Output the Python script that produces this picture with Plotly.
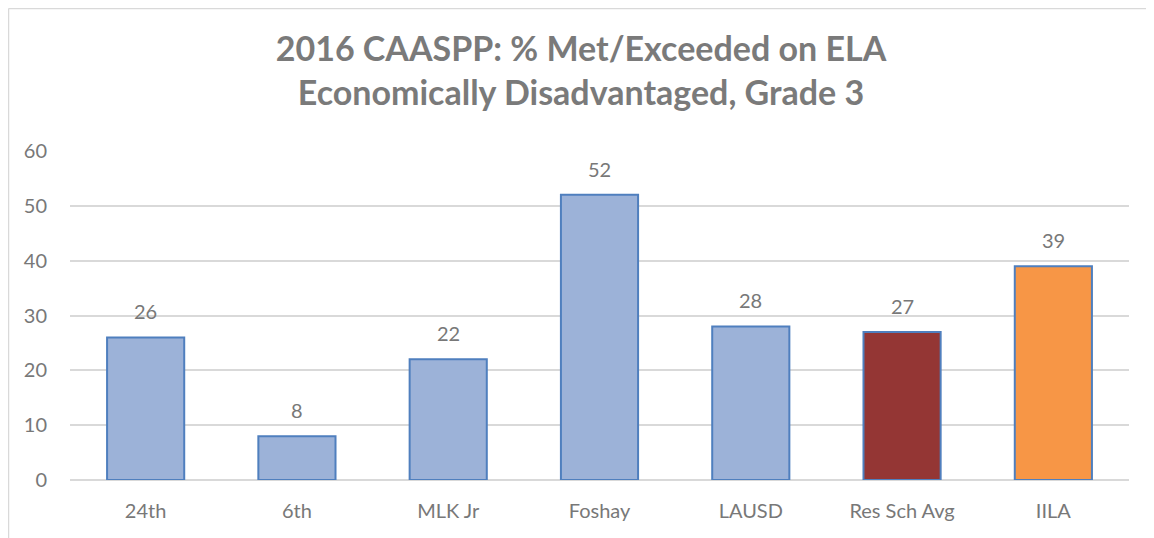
import plotly.graph_objects as go

categories = ["24th", "6th", "MLK Jr", "Foshay", "LAUSD", "Res Sch Avg", "IILA"]
values = [26, 8, 22, 52, 28, 27, 39]
bar_colors = ["#9CB2D8", "#9CB2D8", "#9CB2D8", "#9CB2D8", "#9CB2D8", "#943634", "#F79646"]
y_ticks = [0, 10, 20, 30, 40, 50, 60]

title_text = "2016 CAASPP: % Met/Exceeded on ELA<br>Economically Disadvantaged, Grade 3"
FONT = "Lato, Open Sans, sans-serif"
LABEL_COLOR = "#787878"

fig = go.Figure()
fig.add_trace(go.Bar(
    x=categories,
    y=values,
    marker=dict(color=bar_colors, line=dict(color="#4F7FBE", width=2)),
    hoverinfo="x+y",
))

for c, v in zip(categories, values):
    fig.add_annotation(
        x=c, y=v, text=str(v), showarrow=False,
        yanchor="bottom", yshift=12,
        font=dict(family=FONT, size=20, color=LABEL_COLOR),
    )

# page has an 8px body margin, so the figure is drawn 8px smaller
W, H = 1146, 530
ml, mr, mt, mb = 62, 25, 143, 58

fig.update_layout(
    width=W, height=H,
    margin=dict(l=ml, r=mr, t=mt, b=mb),
    paper_bgcolor="white",
    plot_bgcolor="white",
    showlegend=False,
    bargap=0.49,
    title=dict(
        text=title_text,
        x=0.5, xanchor="center",
        xref="container",
        y=0.9, yanchor="top", yref="container",
        font=dict(family=FONT, size=34, color="#7A7A7A", weight="bold"),
    ),
    xaxis=dict(
        type="category",
        showgrid=False,
        showline=False,
        zeroline=False,
        ticks="",
        ticklabelstandoff=17,
        tickfont=dict(family=FONT, size=20, color=LABEL_COLOR),
    ),
    yaxis=dict(
        range=[0, 60],
        tickvals=y_ticks,
        showgrid=True,
        gridcolor="#D9D9D9",
        gridwidth=2,
        zeroline=True,
        zerolinecolor="#D9D9D9",
        zerolinewidth=2,
        showline=False,
        ticks="",
        ticklabelstandoff=22,
        tickfont=dict(family=FONT, size=20, color=LABEL_COLOR),
    ),
    shapes=[
        dict(type="line", xref="paper", yref="paper",
             x0=-(ml - 0.5) / (W - ml - mr), x1=-(ml - 0.5) / (W - ml - mr),
             y0=-1, y1=(H - mb - 0.5) / (H - mt - mb),
             line=dict(color="#D9D9D9", width=1.5), layer="below"),
        dict(type="line", xref="paper", yref="paper",
             x0=-(ml - 0.5) / (W - ml - mr), x1=1.5,
             y0=(H - mb - 0.5) / (H - mt - mb), y1=(H - mb - 0.5) / (H - mt - mb),
             line=dict(color="#D9D9D9", width=1.5), layer="below"),
    ],
)

fig.write_html("out.html")
